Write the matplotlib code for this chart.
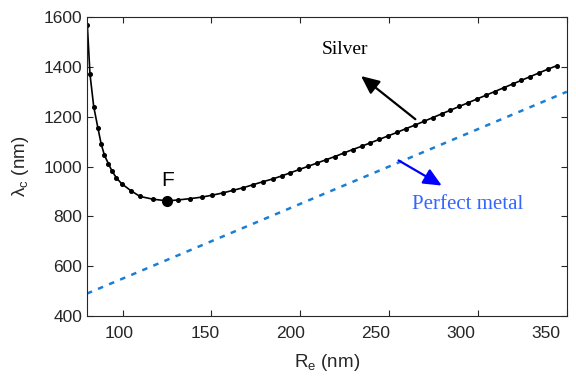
import matplotlib
matplotlib.use("Agg")
import matplotlib.pyplot as plt
from matplotlib.transforms import ScaledTranslation

plt.rcParams['font.family'] = ['Liberation Sans', 'DejaVu Sans']
plt.rcParams['mathtext.fontset'] = 'custom'
plt.rcParams['mathtext.rm'] = 'Liberation Sans'
plt.rcParams['mathtext.it'] = 'Liberation Sans:italic'

# silver: cutoff wavelength vs effective radius
silver_r = [80.2, 81.7, 83.8, 86.2, 88.0, 89.8, 92.0, 94.0, 96.5, 99.5, 104.7, 109.8, 117.0, 125.2,
            131.5, 138.0, 144.5, 150.5, 156.5, 162.0, 168.0, 173.5, 179.0, 184.5, 189.5, 194.5,
            199.5, 204.5, 209.5, 214.5, 219.5, 224.5, 229.5, 234.5, 239.5, 244.5, 249.5, 254.5,
            259.5, 264.5, 269.5, 274.5, 279.5, 284.5, 289.5, 294.5, 299.5, 304.5, 309.5, 314.5,
            319.5, 324.5, 329.5, 334.5, 339.5, 344.5]
silver_lam = [1568, 1370, 1240, 1153, 1090, 1046, 1012, 983, 955, 931, 903, 880, 869, 862,
              866, 871, 877, 885, 894, 904, 915, 927, 939, 950, 962, 975,
              988, 1001, 1014, 1027, 1040, 1054, 1068, 1081, 1095, 1109, 1123, 1137,
              1152, 1166, 1181, 1196, 1211, 1226, 1241, 1256, 1271, 1286, 1301, 1316,
              1331, 1346, 1361, 1376, 1391, 1405]

# perfect metal
pm_r = [80, 100, 150, 200, 250, 300, 350]
pm_lam = [490, 550, 700, 850, 1000, 1150, 1300]

# point F (minimum)
f_r = 125.2
f_lam = 862

xticks = [100, 150, 200, 250, 300, 350]
yticks = [400, 600, 800, 1000, 1200, 1400, 1600]

fig = plt.figure(figsize=(5.76, 3.78), dpi=100)
ax = fig.add_axes([0.151, 0.164, 0.833, 0.791])

ax.plot(pm_r, pm_lam, color='#1a7fd4', lw=1.8, dashes=(2.2, 2.6))
ax.plot(silver_r, silver_lam, color='black', lw=1.2, marker='o', ms=2.6)
ax.plot([f_r], [f_lam], 'o', color='black', ms=7)
ax.text(f_r, f_lam + 45, 'F', fontsize=15, ha='center', va='bottom')

# arrows and labels
head = '-|>,head_length=1.1,head_width=0.5'
ax.annotate('', xy=(233, 1370), xytext=(266, 1183),
            arrowprops=dict(arrowstyle=head, color='black', lw=1.6))
ax.text(225, 1470, 'Silver', fontsize=14, family='Liberation Serif', ha='center', va='center')
ax.annotate('', xy=(281, 918), xytext=(254, 1030),
            arrowprops=dict(arrowstyle=head, color='#0000ff', lw=1.6))
ax.text(294, 846, 'Perfect metal', fontsize=15, family='Liberation Serif', color='#3366ff',
        ha='center', va='center')

ax.set_xlim(80, 350)
ax.set_ylim(400, 1600)
ax.set_xticks(xticks)
ax.set_yticks(yticks)
ax.tick_params(direction='in', top=True, right=True, labelsize=12.5, length=4, color='#262626',
               labelcolor='#262626')
ax.tick_params(axis='x', pad=7)
for s in ax.spines.values():
    s.set_color('#262626')
    s.set_linewidth(0.8)

# tick labels in the original sit a little left of their ticks, more so to the right
for i, lab in enumerate(ax.get_xticklabels()):
    dx = -(3 + 3.5 * i) / 100.0
    lab.set_transform(lab.get_transform() + ScaledTranslation(dx, 0, fig.dpi_scale_trans))

ax.set_xlabel(r'R$_\mathregular{e}$ (nm)', fontsize=13.5, color='#262626', labelpad=8)
ax.set_ylabel('λ$_\\mathregular{c}$ (nm)', fontsize=13.5, color='#262626', labelpad=9)

fig.savefig('out.png', dpi=100)
